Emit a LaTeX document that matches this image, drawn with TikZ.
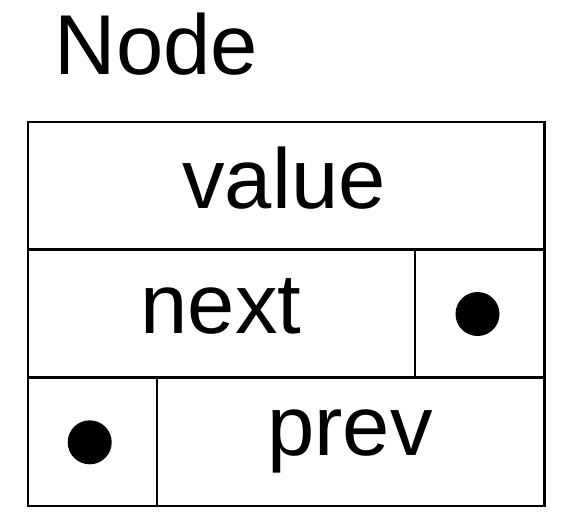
\documentclass[tikz,border=0pt]{standalone}
\usepackage{fontspec}
\setmainfont{Liberation Sans}
\begin{document}
\begin{tikzpicture}[x=1pt,y=-1pt,
  cell/.style={draw=black,line width=2.2pt},
  lbl/.style={inner sep=0pt,anchor=base,font=\fontsize{85}{100}\selectfont},
  dotmark/.style={fill=black,circle,inner sep=0pt,minimum size=44pt}]
\useasboundingbox (0,0) rectangle (572,531);
\node[lbl,anchor=base west] (title) at (54.5,74) {Node};
\draw[cell] (28,122) rectangle (544.5,506);
\draw[cell] (28,249.5) -- (544.5,249.5);
\draw[cell] (28,377.5) -- (544.5,377.5);
\draw[cell] (415,249.5) -- (415,377.5);
\draw[cell] (156.7,377.5) -- (156.7,506);
\node[lbl] (value) at (284,208) {value};
\node[lbl] (next) at (221,333) {next};
\node[lbl] (prev) at (350,455) {prev};
\node[dotmark] (nextdot) at (477.5,314) {};
\node[dotmark] (prevdot) at (89.7,442.3) {};
\end{tikzpicture}
\end{document}
